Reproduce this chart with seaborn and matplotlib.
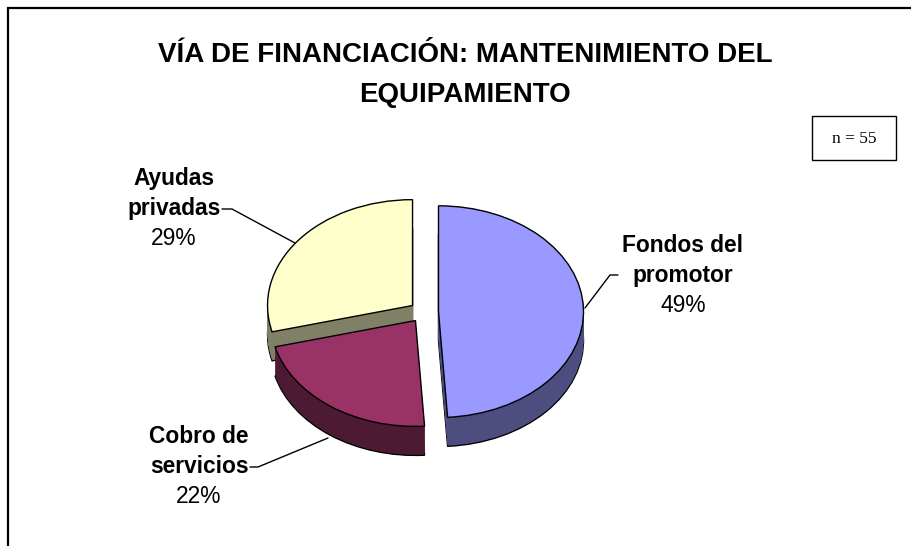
import matplotlib
matplotlib.use('Agg')
import matplotlib.pyplot as plt
from matplotlib.patches import Rectangle
from matplotlib.transforms import Affine2D
import seaborn as sns

sns.set_theme(style='white')
plt.rcParams['font.family'] = ['Liberation Sans', 'DejaVu Sans']
plt.rcParams['text.color'] = 'black'

# Data
categories = ['Fondos del promotor', 'Cobro de servicios', 'Ayudas privadas']
shares = [49, 22, 29]
label_lines = [('Fondos del', 'promotor'), ('Cobro de', 'servicios'), ('Ayudas', 'privadas')]
n_total = 55

top_colors = ['#9999FF', '#993366', '#FFFFCC']
side_colors = ['#4D4D80', '#4D1A33', '#808066']

W, H = 912, 546
def Y(y):
    # pixel row (from top) -> data y (from bottom)
    return H - y

fig = plt.figure(figsize=(W / 100, H / 100), dpi=100)
ax = fig.add_axes([0, 0, 1, 1])

# pie geometry (pixels)
cx, cy = 424, Y(312)
R, tilt, depth = 145, 0.73, 29
explode = [0.1, 0.1, 0.1]

def draw_pie(colors, dz, edge):
    wedges, _ = ax.pie(shares, colors=colors, startangle=90, counterclock=False,
                       explode=explode, radius=1,
                       wedgeprops=dict(edgecolor='black' if edge else 'none',
                                       linewidth=1.0, antialiased=True))
    for w in wedges:
        w.set_transform(Affine2D().scale(R, R * tilt).translate(cx, cy - dz) + ax.transData)

# side walls: stacked layers, bottom one outlined
draw_pie(side_colors, depth, True)
for dz in range(depth - 1, 0, -1):
    draw_pie(side_colors, dz, False)
# top faces
draw_pie(top_colors, 0, True)

# labels with leader lines
label_pos = [(683, 252), (199, 443), (174, 185)]
leaders = [
    [(618, 275), (610, 275), (585, 308)],
    [(250, 467), (258, 467), (328, 438)],
    [(222, 209), (232, 209), (295, 243)],
]
for (l1, l2), v, (lx, ly), pts in zip(label_lines, shares, label_pos, leaders):
    ax.text(lx, Y(ly), l1, ha='center', va='baseline', fontsize=16.4, fontweight='bold', color='black')
    ax.text(lx, Y(ly + 30), l2, ha='center', va='baseline', fontsize=16.4, fontweight='bold', color='black')
    ax.text(lx, Y(ly + 60), f'{v}%', ha='center', va='baseline', fontsize=16.4, color='black')
    ax.plot([p[0] for p in pts], [Y(p[1]) for p in pts], color='black', lw=1.0)

# title
ax.text(465, Y(62), 'VÍA DE FINANCIACIÓN: MANTENIMIENTO DEL', ha='center', va='baseline',
        fontsize=20, fontweight='bold', color='black')
ax.text(465, Y(102), 'EQUIPAMIENTO', ha='center', va='baseline',
        fontsize=20, fontweight='bold', color='black')

# n box
ax.add_patch(Rectangle((812, Y(160)), 84, 44, facecolor='white', edgecolor='black', lw=1.0))
ax.text(854, Y(143), f'n = {n_total}', ha='center', va='baseline', fontsize=12.5, color='black',
        family=['Liberation Serif', 'DejaVu Serif'])

# outer chart border
ax.add_patch(Rectangle((8, -20), W + 20, Y(8) + 20, facecolor='none', edgecolor='black',
                       lw=1.6, clip_on=False))

ax.set_xlim(0, W)
ax.set_ylim(0, H)
ax.set_aspect('auto')
ax.axis('off')

fig.savefig('out.png', dpi=100)
